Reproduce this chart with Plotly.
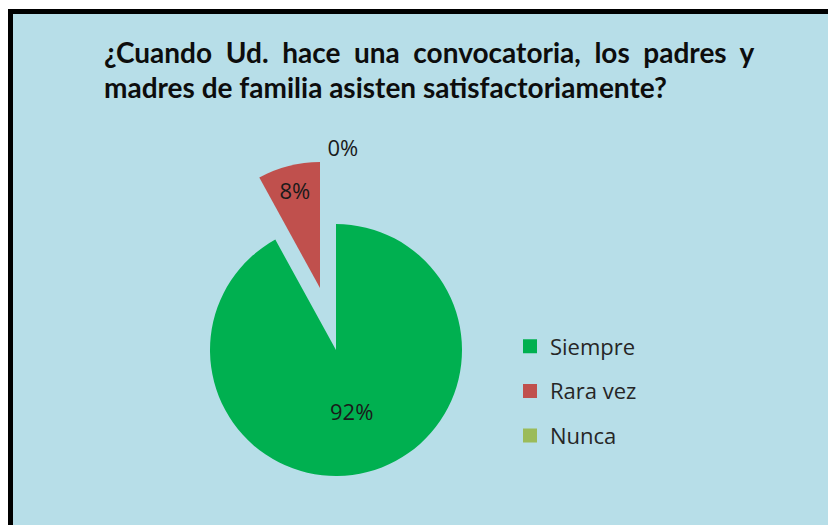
import plotly.graph_objects as go

labels = ["Siempre", "Rara vez", "Nunca"]
values = [92, 8, 0]
colors = ["#00B050", "#C0504D", "#9BBB59"]
title_lines = ["¿Cuando Ud. hace una convocatoria, los padres y",
               "madres de familia asisten satisfactoriamente?"]

# the page body has an 8px margin, so the figure is a bit smaller than the window
OFF = 8
FW, FH = 828, 517
bg = "#B7DEE8"
fnt = "Open Sans, sans-serif"

def px(xw, yw):
    # window pixels -> paper coords
    return (xw - OFF) / FW, 1 - (yw - OFF) / FH

def dom(cx, cy, r):
    fx, fy = cx - OFF, cy - OFF
    return dict(x=[(fx - r) / FW, (fx + r) / FW], y=[(FH - fy - r) / FH, (FH - fy + r) / FH])

fig = go.Figure()

# main pie; the exploded slice is drawn by a second, shifted pie
fig.add_trace(go.Pie(
    labels=labels, values=values, sort=False, direction="clockwise", rotation=0,
    marker=dict(colors=[colors[0], "rgba(0,0,0,0)", "rgba(0,0,0,0)"], line=dict(width=0)),
    texttemplate=["%{percent:.0%}", "", ""], textposition="inside",
    insidetextorientation="horizontal",
    textfont=dict(family=fnt, size=22, color="#1a1a1a"),
    domain=dom(336, 350, 126), showlegend=False, hoverinfo="label+percent",
))
fig.add_trace(go.Pie(
    labels=labels, values=values, sort=False, direction="clockwise", rotation=0,
    marker=dict(colors=["rgba(0,0,0,0)", colors[1], colors[2]], line=dict(width=0)),
    texttemplate=["", "%{percent:.0%}", "%{percent:.0%}"],
    textposition=["none", "inside", "outside"],
    insidetextorientation="horizontal",
    textfont=dict(family=fnt, size=22, color="#1a1a1a"),
    domain=dom(320, 288, 126), showlegend=False, hoverinfo="label+percent",
))

# legend entries
for lab, col in zip(labels, colors):
    fig.add_trace(go.Scatter(
        x=[None], y=[None], mode="markers", name=lab, legendgroup=lab,
        marker=dict(symbol="square", size=14, color=col),
    ))

# title, first line spread out like a justified paragraph
ann = []
for i, line in enumerate(title_lines):
    txt = line.replace(" ", "&nbsp; ") if i == 0 else line
    x, y = px(102, 52 + 35 * i)
    ann.append(dict(text="<b>" + txt + "</b>", x=x, y=y, xref="paper", yref="paper",
                    xanchor="left", yanchor="middle", showarrow=False,
                    font=dict(family="Lato, sans-serif", size=28, color="#0d0d0d")))

lx, ly = px(510, 391)
fig.update_layout(
    width=FW, height=FH, margin=dict(l=0, r=0, t=0, b=0),
    paper_bgcolor="white", plot_bgcolor="rgba(0,0,0,0)",
    xaxis=dict(visible=False), yaxis=dict(visible=False),
    annotations=ann,
    legend=dict(x=lx, y=ly, xanchor="left", yanchor="middle",
                font=dict(family=fnt, size=22, color="#262626"),
                tracegroupgap=13, itemwidth=30, bgcolor="rgba(0,0,0,0)"),
    shapes=[dict(type="rect", xref="paper", yref="paper",
                 x0=2.5 / FW, x1=(FW + 10) / FW, y0=-10 / FH, y1=1 - 3.5 / FH,
                 line=dict(color="black", width=5), fillcolor=bg, layer="below")],
)

fig.write_html("out.html")
